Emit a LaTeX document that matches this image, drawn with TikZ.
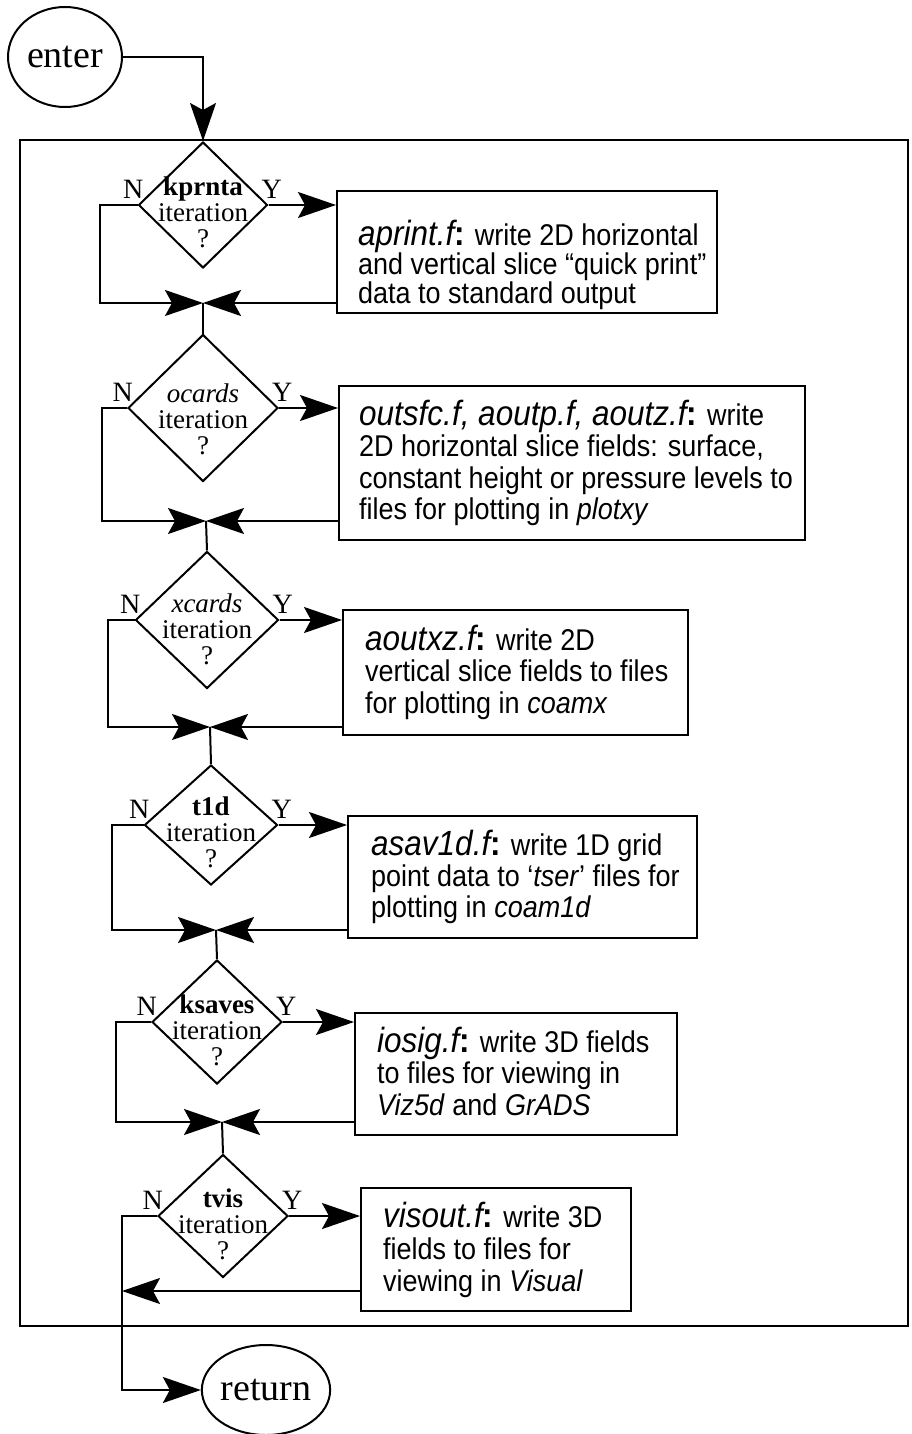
\documentclass[tikz,border=0pt]{standalone}
\usepackage{fontspec}
\setmainfont{Liberation Serif}
\newfontfamily\boxsans[FakeStretch=0.9]{Liberation Sans}
\usetikzlibrary{arrows.meta,shapes.geometric,calc}
\newcommand{\fn}[1]{{\fontsize{35}{35}\selectfont\itshape #1\upshape\bfseries:}}
\newcommand{\bl}[1]{\hbox{#1}}
\newcommand{\blines}[2]{\vtop{\baselineskip=#1pt\lineskiplimit=-1000pt\lineskip=0pt #2}}
\newcommand{\dtext}[1]{\vtop{\baselineskip=26pt\lineskiplimit=-1000pt\lineskip=0pt\halign{\hfil##\hfil\cr #1\cr iteration\cr ?\cr}}}
\begin{document}
\begin{tikzpicture}[x=1pt,y=-1pt,
  ln/.style={line width=2pt},
  arr/.style={ln,-{Stealth[length=38pt,width=26pt,inset=7pt]}},
  dia/.style 2 args={diamond,draw,ln,inner sep=0pt,minimum width=#1pt,minimum height=#2pt},
  pbox/.style 2 args={rectangle,draw,ln,inner sep=0pt,minimum width=#1pt,minimum height=#2pt},
  oval/.style 2 args={ellipse,draw,ln,inner sep=0pt,minimum width=#1pt,minimum height=#2pt,font=\fontsize{38}{38}\selectfont},
  dtxt/.style={anchor=base,inner sep=0pt,font=\fontsize{27}{26}\selectfont},
  btxt/.style={anchor=base west,inner sep=0pt,font=\boxsans\fontsize{30}{31}\selectfont},
  yn/.style={inner sep=0pt,font=\fontsize{28}{28}\selectfont}
]
\useasboundingbox (0,0) rectangle (911,1434);

% terminals and frame
\node[oval={114}{100}] (enter) at (65,57) {enter};
\node[oval={114}{90}] (ret) at (266,1390) {return};
\node[rectangle,draw,line width=2.2pt,minimum width=888pt,minimum height=1186pt,inner sep=0pt] (frame) at (464,733) {};

% decisions
\node[dia={129}{126}] (d1) at (203,205) {};
\node[dia={150}{147}] (d2) at (203,408) {};
\node[dia={143}{137}] (d3) at (207,620) {};
\node[dia={133}{120}] (d4) at (211,825) {};
\node[dia={130}{124}] (d5) at (217,1022) {};
\node[dia={130}{123}] (d6) at (223,1216) {};

\node[dtxt] (d1t) at (203,196) {\dtext{\textbf{kprnta}}};
\node[dtxt] (d2t) at (203,402) {\dtext{\textit{ocards}}};
\node[dtxt] (d3t) at (207,612) {\dtext{\textit{xcards}}};
\node[dtxt] (d4t) at (211,815) {\dtext{\textbf{t1d}}};
\node[dtxt] (d5t) at (217,1013) {\dtext{\textbf{ksaves}}};
\node[dtxt] (d6t) at (223,1207) {\dtext{\textbf{tvis}}};

\foreach \d in {d1,d2,d3,d4,d5,d6}{
  \node[yn,anchor=base east] (\d N) at ($(\d.west)+(6,-7)$) {N};
  \node[yn,anchor=base west] (\d Y) at ($(\d.east)+(-7,-7)$) {Y};
}

% process boxes
\node[pbox={380}{122}] (b1) at (527,252) {};
\node[pbox={466}{154}] (b2) at (572,463) {};
\node[pbox={345}{125}] (b3) at (515.5,672.5) {};
\node[pbox={349}{122}] (b4) at (522.5,877) {};
\node[pbox={322}{122}] (b5) at (516,1074) {};
\node[pbox={270}{123}] (b6) at (496,1249.5) {};

\node[btxt] (b1t) at (358,245) {\blines{29}{\bl{\fn{aprint.f} write 2D horizontal}\bl{and vertical slice “quick print”}\bl{data to standard output}}};
\node[btxt] (b2t) at (359,425) {\blines{31.5}{\bl{\fn{outsfc.f, aoutp.f, aoutz.f} write}\bl{2D horizontal slice fields: surface,}\bl{constant height or pressure levels to}\bl{files for plotting in \textit{plotxy}}}};
\node[btxt] (b3t) at (365,650) {\blines{31.5}{\bl{\fn{aoutxz.f} write 2D}\bl{vertical slice fields to files}\bl{for plotting in \textit{coamx}}}};
\node[btxt] (b4t) at (371,855) {\blines{31}{\bl{\fn{asav1d.f} write 1D grid}\bl{point data to ‘\textit{tser}’ files for}\bl{plotting in \textit{coam1d}}}};
\node[btxt] (b5t) at (377,1052) {\blines{31.5}{\bl{\fn{iosig.f} write 3D fields}\bl{to files for viewing in}\bl{\textit{Viz5d} and \textit{GrADS}}}};
\node[btxt] (b6t) at (383,1227) {\blines{32}{\bl{\fn{visout.f} write 3D}\bl{fields to files for}\bl{viewing in \textit{Visual}}}};

% merge points and loop corners
\coordinate (m1) at (203,303);
\coordinate (m2) at (206,521);
\coordinate (m3) at (210,727);
\coordinate (m4) at (216,930);
\coordinate (m5) at (222,1122);
\coordinate (n1) at (100,303);
\coordinate (n2) at (102,521);
\coordinate (n3) at (108,727);
\coordinate (n4) at (112,930);
\coordinate (n5) at (116,1122);
\coordinate (n6) at (122,1390);
\coordinate (r6) at (122,1291);

% connectors
\draw[arr] (enter.east) -| (d1.north);
\draw[arr] (d1.east) -- (d1.east -| b1.west);
\draw[arr] (d2.east) -- (d2.east -| b2.west);
\draw[arr] (d3.east) -- (d3.east -| b3.west);
\draw[arr] (d4.east) -- (d4.east -| b4.west);
\draw[arr] (d5.east) -- (d5.east -| b5.west);
\draw[arr] (d6.east) -- (d6.east -| b6.west);

\draw[arr] (d1.west) -| (n1) -- (m1);
\draw[arr] (d2.west) -| (n2) -- (m2);
\draw[arr] (d3.west) -| (n3) -- (m3);
\draw[arr] (d4.west) -| (n4) -- (m4);
\draw[arr] (d5.west) -| (n5) -- (m5);
\draw[arr] (d6.west) -| (n6) -- (ret.west);

\draw[arr] (b1.west |- m1) -- (m1);
\draw[arr] (b2.west |- m2) -- (m2);
\draw[arr] (b3.west |- m3) -- (m3);
\draw[arr] (b4.west |- m4) -- (m4);
\draw[arr] (b5.west |- m5) -- (m5);
\draw[arr] (b6.west |- r6) -- (r6);

\draw[ln] (m1) -- (d2.north);
\draw[ln] (m2) -- (d3.north);
\draw[ln] (m3) -- (d4.north);
\draw[ln] (m4) -- (d5.north);
\draw[ln] (m5) -- (d6.north);
\end{tikzpicture}
\end{document}
